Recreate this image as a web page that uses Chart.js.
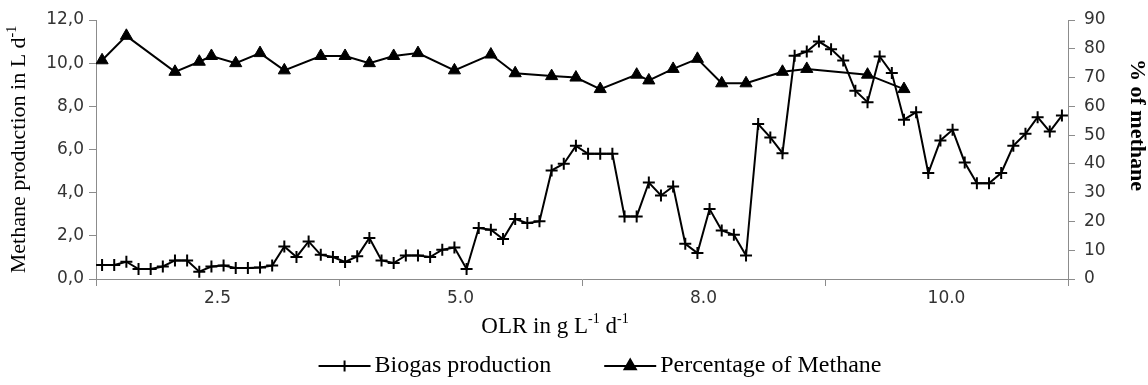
<!DOCTYPE html>
<html lang="en">
  <head>
    <meta charset="UTF-8" />
    <script src="https://cdn.jsdelivr.net/npm/chart.js"></script>
    <title>Biogas and methane</title>
    <style>
      body {
        margin: 0;
        background: #ffffff;
      }
      #wrap {
        width: 1148px;
        height: 385px;
      }
    </style>
  </head>
  <body>
    <div id="wrap"><canvas id="myChart"></canvas></div>
    <script>
      // one entry per sample (80 samples), methane was only measured on some of them
      const biogas = [
        0.65, 0.65, 0.8, 0.46, 0.46, 0.58, 0.86, 0.86, 0.34, 0.58,
        0.62, 0.51, 0.51, 0.53, 0.62, 1.51, 1.02, 1.74, 1.12, 1.02,
        0.79, 1.05, 1.9, 0.86, 0.74, 1.09, 1.09, 1.02, 1.36, 1.46,
        0.46, 2.36, 2.28, 1.85, 2.78, 2.59, 2.67, 5.03, 5.34, 6.17,
        5.8, 5.8, 5.8, 2.9, 2.9, 4.47, 3.87, 4.29, 1.63, 1.2,
        3.24, 2.25, 2.05, 1.09, 7.18, 6.56, 5.83, 10.34, 10.54, 11.0,
        10.65, 10.12, 8.72, 8.19, 10.31, 9.54, 7.38, 7.73, 4.91, 6.42,
        6.91, 5.4, 4.44, 4.44, 4.91, 6.17, 6.73, 7.5, 6.83, 7.57,
      ];
      const methanePct = [
        76, null, 84.5, null, null, null, 72, null, 75.5, 77.5,
        null, 75, null, 78.5, null, 72.5, null, null, 77.5, null,
        77.5, null, 75, null, 77.5, null, 78.5, null, null, 72.5,
        null, null, 78, null, 71.5, null, null, 70.5, null, 70,
        null, 66, null, null, 71, 69, null, 73, null, 76.5,
        null, 68, null, 68, null, null, 72, null, 73, null,
        null, null, null, 71, null, null, 66, null, null, null,
        null, null, null, null, null, null, null, null, null, null,
      ];
      const xTickLabels = ["2.5", "5.0", "8.0", "10.0"];
      const seriesNames = ["Biogas production", "Percentage of Methane"];

      const axisGray = "#8c8c8c";
      const tickFont = { family: "DejaVu Sans", size: 17 };
      const serif = "'Liberation Serif', 'Times New Roman', serif";

      const toPoints = (arr) =>
        arr.map((v, i) => ({ x: i + 0.5, y: v }));

      // draws a string with superscript parts, centred on (x, y)
      function drawRich(ctx, parts, x, y, size, weight) {
        const big = `${weight} ${size}px ${serif}`;
        const small = `${weight} ${Math.round(size * 0.62)}px ${serif}`;
        let total = 0;
        parts.forEach((p) => {
          ctx.font = p.sup ? small : big;
          p.w = ctx.measureText(p.t).width;
          total += p.w;
        });
        let cx = x - total / 2;
        ctx.textAlign = "left";
        ctx.textBaseline = "middle";
        parts.forEach((p) => {
          ctx.font = p.sup ? small : big;
          ctx.fillText(p.t, cx, p.sup ? y - size * 0.32 : y);
          cx += p.w;
        });
      }

      const extras = {
        id: "extras",
        afterDraw(chart) {
          const ctx = chart.ctx;
          const area = chart.chartArea;
          ctx.save();
          ctx.fillStyle = "#000";

          // x title
          drawRich(
            ctx,
            [{ t: "OLR in g L" }, { t: "-1", sup: true }, { t: " d" }, { t: "-1", sup: true }],
            555, 327, 23, "normal"
          );

          // left title
          ctx.save();
          ctx.translate(19, (area.top + area.bottom) / 2);
          ctx.rotate(-Math.PI / 2);
          drawRich(
            ctx,
            [{ t: "Methane production in L d" }, { t: "-1", sup: true }],
            0, 0, 22, "normal"
          );
          ctx.restore();

          // right title
          ctx.save();
          ctx.translate(1137, 125);
          ctx.rotate(Math.PI / 2);
          drawRich(ctx, [{ t: "% of methane" }], 0, 0, 22, "bold");
          ctx.restore();

          // legend
          const legendY = 366;
          const sample = 52;
          const gap = 4;
          const spacing = 53;
          ctx.font = `24px ${serif}`;
          const widths = seriesNames.map((n) => ctx.measureText(n).width);
          let total = 0;
          widths.forEach((w, i) => {
            total += sample + gap + w + (i ? spacing : 0);
          });
          let lx = 600 - total / 2;
          chart.data.datasets.forEach((ds, i) => {
            ctx.strokeStyle = "#000";
            ctx.fillStyle = "#000";
            ctx.lineWidth = 2;
            ctx.beginPath();
            ctx.moveTo(lx, legendY);
            ctx.lineTo(lx + sample, legendY);
            ctx.stroke();
            Chart.helpers.drawPoint(
              ctx,
              {
                pointStyle: ds.pointStyle,
                radius: ds.pointRadius - 0.5,
                borderWidth: ds.pointBorderWidth,
                rotation: 0,
              },
              lx + sample / 2,
              legendY
            );
            ctx.font = `24px ${serif}`;
            ctx.textAlign = "left";
            ctx.textBaseline = "middle";
            ctx.fillText(ds.label, lx + sample + gap, legendY);
            lx += sample + gap + widths[i] + spacing;
          });
          ctx.restore();
        },
      };

      const ctx = document.getElementById("myChart").getContext("2d");
      const myChart = new Chart(ctx, {
        type: "line",
        data: {
          datasets: [
            {
              label: seriesNames[0],
              data: toPoints(biogas),
              yAxisID: "y",
              borderColor: "#000",
              backgroundColor: "#000",
              borderWidth: 2,
              pointStyle: "cross",
              pointRadius: 6,
              pointBorderWidth: 2,
              pointBorderColor: "#000",
              tension: 0,
            },
            {
              label: seriesNames[1],
              data: toPoints(methanePct),
              yAxisID: "y1",
              spanGaps: true,
              borderColor: "#000",
              backgroundColor: "#000",
              borderWidth: 2,
              pointStyle: "triangle",
              pointRadius: 7,
              pointBorderWidth: 1,
              pointBackgroundColor: "#000",
              pointBorderColor: "#000",
              tension: 0,
            },
          ],
        },
        options: {
          responsive: true,
          maintainAspectRatio: false,
          animation: false,
          layout: { padding: { top: 20, bottom: 0, left: 0, right: 0 } },
          plugins: {
            legend: { display: false },
            tooltip: { enabled: false },
          },
          scales: {
            x: {
              type: "linear",
              min: 0,
              max: 80,
              afterBuildTicks: (scale) => {
                const t = [];
                for (let v = 0; v <= 80; v += 10) t.push({ value: v });
                scale.ticks = t;
              },
              ticks: {
                autoSkip: false,
                maxRotation: 0,
                padding: 2,
                color: "#333",
                font: tickFont,
                callback: (v) => (v % 20 === 10 ? xTickLabels[(v - 10) / 20] : ""),
              },
              grid: {
                drawOnChartArea: false,
                tickLength: 7,
                color: (c) =>
                  c.tick && c.tick.value % 20 === 0 ? axisGray : "rgba(0,0,0,0)",
              },
              border: { color: axisGray },
              afterFit: (scale) => {
                scale.height = 106;
              },
            },
            y: {
              position: "left",
              min: 0,
              max: 12,
              ticks: {
                stepSize: 2,
                padding: 5,
                color: "#333",
                font: tickFont,
                callback: (v) => v.toFixed(1).replace(".", ","),
              },
              grid: { drawOnChartArea: false, tickLength: 7, color: axisGray },
              border: { color: axisGray },
              afterFit: (scale) => {
                scale.width = 96;
              },
            },
            y1: {
              position: "right",
              min: 0,
              max: 90,
              ticks: {
                stepSize: 10,
                padding: 9,
                color: "#333",
                font: tickFont,
              },
              grid: { drawOnChartArea: false, tickLength: 7, color: axisGray },
              border: { color: axisGray },
              afterFit: (scale) => {
                scale.width = 80;
              },
            },
          },
        },
        plugins: [extras],
      });
    </script>
  </body>
</html>
